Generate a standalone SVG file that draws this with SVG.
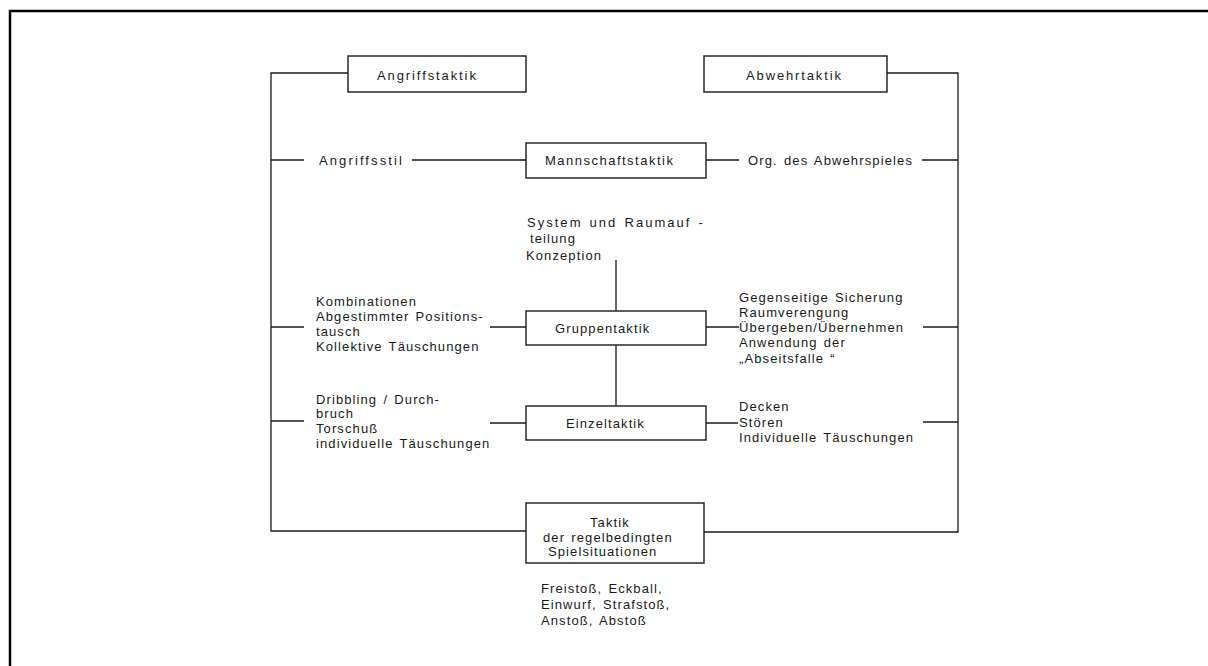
<svg xmlns="http://www.w3.org/2000/svg" width="1208" height="666" viewBox="0 0 1208 666">
<style>
.t{font-family:"Liberation Sans",Arial,sans-serif;font-size:13px;letter-spacing:1.1px;word-spacing:1.5px;fill:#1a1a1a}
.b{fill:#fff;stroke:#1a1a1a;stroke-width:1.4}
.c{fill:none;stroke:#1a1a1a;stroke-width:1.3}
</style>
<rect width="1208" height="666" fill="#fff"/>
<path d="M10,667 V11 H1208" fill="none" stroke="#000" stroke-width="2.5"/>
<g id="connectors" class="c">
<path d="M348,73 H271 V531 H526"/>
<path d="M887,73 H958 V532 H704"/>
<path d="M271,160 H304 M412,160 H526 M706,160 H739 M922,160 H958"/>
<path d="M271,327 H304 M490,327 H526 M706,327 H739 M923,327 H958"/>
<path d="M271,421 H304 M490,423 H526 M706,423 H738 M923,422 H958"/>
<path d="M616,260 V311 M616,345 V406"/>
</g>
<g id="angriffstaktik"><rect class="b" x="348" y="56" width="178" height="36"/><text class="t" x="377" y="79.5" textLength="100" lengthAdjust="spacing">Angriffstaktik</text></g>
<g id="abwehrtaktik"><rect class="b" x="704" y="56" width="183" height="36"/><text class="t" x="746" y="79.5" textLength="96" lengthAdjust="spacing">Abwehrtaktik</text></g>
<g id="mannschaftstaktik"><rect class="b" x="526" y="143" width="180" height="35"/><text class="t" x="545" y="165" textLength="129" lengthAdjust="spacing">Mannschaftstaktik</text></g>
<g id="angriffsstil"><text class="t" x="319" y="165" textLength="84" lengthAdjust="spacing">Angriffsstil</text></g>
<g id="org-abwehr"><text class="t" x="748" y="165" textLength="165" lengthAdjust="spacing">Org. des Abwehrspieles</text></g>
<g id="system"><text class="t" x="527" y="226.5" textLength="177" lengthAdjust="spacing">System und Raumauf -</text><text class="t" x="530" y="242.5">teilung</text><text class="t" x="526" y="259.5">Konzeption</text></g>
<g id="gruppentaktik"><rect class="b" x="526" y="311" width="180" height="34"/><text class="t" x="555" y="332.5">Gruppentaktik</text></g>
<g id="gruppe-angriff"><text class="t" x="316" y="305.5">Kombinationen</text><text class="t" x="316" y="320.8">Abgestimmter Positions-</text><text class="t" x="316" y="336.1">tausch</text><text class="t" x="316" y="351.4">Kollektive Täuschungen</text></g>
<g id="gruppe-abwehr"><text class="t" x="739" y="301.5">Gegenseitige Sicherung</text><text class="t" x="739" y="316.8">Raumverengung</text><text class="t" x="739" y="332.1">Übergeben/Übernehmen</text><text class="t" x="739" y="347.4">Anwendung der</text><text class="t" x="739" y="362.7">„Abseitsfalle “</text></g>
<g id="einzeltaktik"><rect class="b" x="526" y="406" width="180" height="34"/><text class="t" x="566" y="427.5">Einzeltaktik</text></g>
<g id="einzel-angriff"><text class="t" x="316" y="403.5">Dribbling / Durch-</text><text class="t" x="316" y="418">bruch</text><text class="t" x="316" y="432.5">Torschuß</text><text class="t" x="316" y="448">individuelle Täuschungen</text></g>
<g id="einzel-abwehr"><text class="t" x="739" y="411">Decken</text><text class="t" x="739" y="426.5">Stören</text><text class="t" x="739" y="442">Individuelle Täuschungen</text></g>
<g id="regel"><rect class="b" x="526" y="503" width="178" height="60"/><text class="t" x="590" y="526.5">Taktik</text><text class="t" x="543" y="541.5">der regelbedingten</text><text class="t" x="548" y="556">Spielsituationen</text></g>
<g id="standards"><text class="t" x="541" y="593">Freistoß, Eckball,</text><text class="t" x="541" y="609">Einwurf, Strafstoß,</text><text class="t" x="541" y="625">Anstoß, Abstoß</text></g>
</svg>
